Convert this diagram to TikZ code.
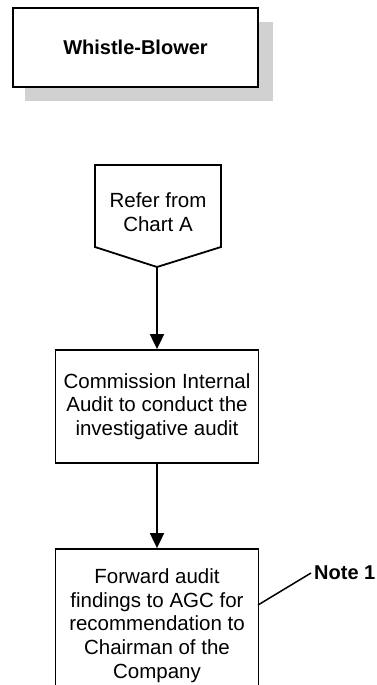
\documentclass[tikz,border=0pt]{standalone}
\usepackage{fontspec}
\setmainfont{Liberation Sans}
\usetikzlibrary{arrows.meta}
\begin{document}
\begin{tikzpicture}[x=1pt,y=-1pt,
  box/.style={draw,line width=1.8pt,fill=white,align=center,inner sep=0pt},
  txt/.style={font=\fontsize{20.5}{23.8}\selectfont},
  btxt/.style={font=\fontsize{20}{22}\selectfont\bfseries},
  conn/.style={line width=1.8pt,-{Triangle[length=15pt,width=14pt]}},
  shadow/.style={fill=black!18,draw=none}]
\clip (0,0) rectangle (377,685);
\fill[white] (0,0) rectangle (377,685);
% Whistle-Blower box with shadow
\fill[shadow] (25,22) rectangle (273,101);
\node[box,minimum width=245pt,minimum height=79pt,btxt] (wb) at (135.5,47.5) {Whistle-Blower};
% off-page connector
\draw[line width=1.8pt,fill=white] (95,165) -- (221,165) -- (221,247) -- (157,267) -- (95,247) -- cycle;
\coordinate (rp) at (157,267);
\node[txt,align=center] (refer) at (158,212) {Refer from\\Chart A};
% box 2
\node[box,txt,minimum width=203pt,minimum height=113pt] (ci) at (157,406.5)
  {Commission Internal\\Audit to conduct the\\investigative audit};
% box 3
\node[box,txt,minimum width=203pt,minimum height=153pt] (fw) at (157,625.5)
  {Forward audit\\findings to AGC for\\recommendation to\\Chairman of the\\Company};
% connectors
\draw[conn] (rp) -- (ci.north);
\draw[conn] (ci.south) -- (fw.north);
% note
\coordinate (na) at (258,605);
\node[btxt,anchor=west,inner sep=0pt] (note) at (314,573) {Note 1};
\draw[line width=1.5pt] (na) -- ([xshift=-3pt]note.west);
\end{tikzpicture}
\end{document}
